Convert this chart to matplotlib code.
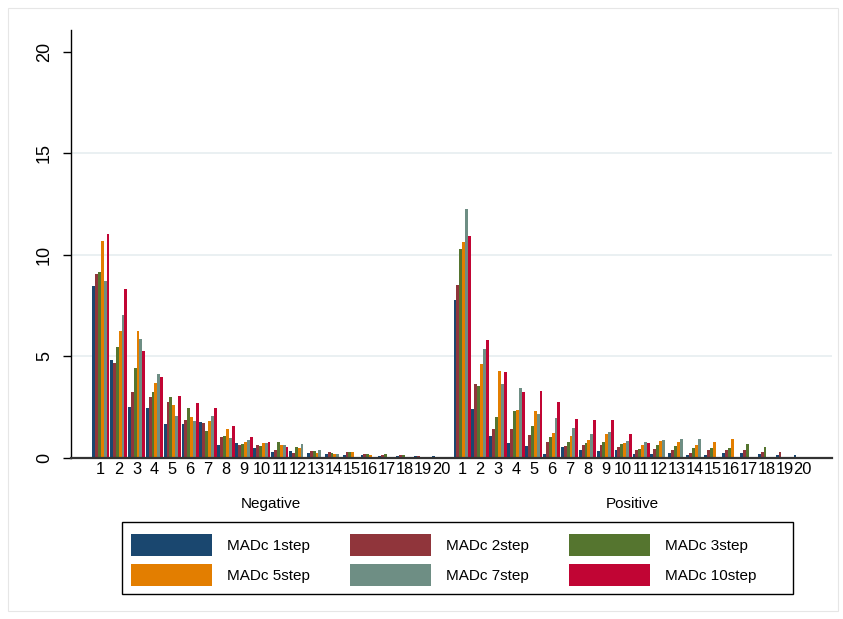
import numpy as np
import matplotlib
matplotlib.use('Agg')
import matplotlib.pyplot as plt
from matplotlib.patches import Patch, Rectangle

plt.rcParams['font.family'] = ['Liberation Sans', 'DejaVu Sans']

# data
categories = [str(i) for i in range(1, 21)]
groups = ['Negative', 'Positive']
series = ['MADc 1step', 'MADc 2step', 'MADc 3step', 'MADc 5step', 'MADc 7step', 'MADc 10step']
colors = ['#1a476f', '#90353b', '#55752f', '#e37e00', '#6e8e84', '#c10534']

neg_1step = [8.47, 4.83, 2.51, 2.46, 1.67, 1.67, 1.77, 0.64, 0.74, 0.49, 0.28, 0.36, 0.26, 0.21, 0.13, 0.13, 0.08, 0.08, 0.08, 0.08]
neg_2step = [9.06, 4.68, 3.25, 3.00, 2.76, 1.87, 1.72, 1.03, 0.64, 0.64, 0.41, 0.23, 0.36, 0.31, 0.30, 0.20, 0.13, 0.15, 0.08, 0]
neg_3step = [9.16, 5.47, 4.43, 3.25, 3.00, 2.46, 1.33, 1.08, 0.69, 0.59, 0.80, 0.56, 0.35, 0.26, 0.30, 0.18, 0.21, 0.16, 0, 0]
neg_5step = [10.70, 6.26, 6.26, 3.69, 2.61, 2.00, 1.82, 1.43, 0.79, 0.74, 0.66, 0.51, 0.26, 0.21, 0.31, 0.13, 0, 0, 0, 0]
neg_7step = [8.70, 7.04, 5.86, 4.14, 2.07, 1.82, 2.07, 0.99, 0.89, 0.74, 0.66, 0.70, 0.39, 0.21, 0, 0, 0, 0, 0, 0]
neg_10step = [11.03, 8.33, 5.27, 3.99, 3.05, 2.71, 2.46, 1.58, 1.03, 0.79, 0.56, 0, 0, 0, 0, 0, 0, 0, 0, 0]

pos_1step = [7.78, 2.41, 1.08, 0.74, 0.59, 0.20, 0.53, 0.39, 0.34, 0.39, 0.20, 0.21, 0.26, 0.16, 0.16, 0.23, 0.23, 0.18, 0.13, 0.13]
pos_2step = [8.54, 3.64, 1.43, 1.43, 1.13, 0.79, 0.59, 0.64, 0.64, 0.54, 0.39, 0.46, 0.39, 0.23, 0.39, 0.38, 0.39, 0.28, 0.30, 0]
pos_3step = [10.27, 3.55, 2.00, 2.33, 1.58, 1.03, 0.79, 0.72, 0.79, 0.69, 0.44, 0.64, 0.59, 0.47, 0.51, 0.51, 0.67, 0.54, 0, 0]
pos_5step = [10.63, 4.65, 4.29, 2.36, 2.32, 1.23, 1.07, 0.90, 1.20, 0.74, 0.62, 0.85, 0.77, 0.62, 0.77, 0.92, 0, 0, 0, 0]
pos_7step = [12.27, 5.37, 3.64, 3.45, 2.17, 1.97, 1.46, 1.20, 1.30, 0.84, 0.77, 0.88, 0.95, 0.95, 0, 0, 0, 0, 0, 0]
pos_10step = [10.95, 5.80, 4.24, 3.27, 3.30, 2.76, 1.92, 1.86, 1.89, 1.17, 0.74, 0, 0, 0, 0, 0, 0, 0, 0, 0]

neg_data = [neg_1step, neg_2step, neg_3step, neg_5step, neg_7step, neg_10step]
pos_data = [pos_1step, pos_2step, pos_3step, pos_5step, pos_7step, pos_10step]

# layout
bar_w = 1.0
step = 6.2
gap = 7.4
neg_x = np.arange(len(categories)) * step
pos_x = neg_x[-1] + gap + np.arange(len(categories)) * step
offsets = (np.arange(len(series)) - 2.5) * bar_w

fig = plt.figure(figsize=(8.43, 6.19), dpi=100)
fig.patches.append(Rectangle((8 / 843, 8 / 619), 830 / 843, 603 / 619, transform=fig.transFigure,
                             fill=False, edgecolor='#e6e6e6', linewidth=0.8))
ax = fig.add_axes([71 / 843, 1 - 458 / 619, 761 / 843, 428 / 619])

for k in range(len(series)):
    ax.bar(neg_x + offsets[k], neg_data[k], width=bar_w, color=colors[k], linewidth=0, zorder=2)
    ax.bar(pos_x + offsets[k], pos_data[k], width=bar_w, color=colors[k], linewidth=0, zorder=2)

for yv in [5, 10, 15]:
    ax.axhline(yv, color='#e8eff1', linewidth=1.3, zorder=0)

ax.set_xlim(neg_x[0] - 3 - 7.3, pos_x[-1] + 3 + 7.3)
ax.set_ylim(0, 21.08)

ax.set_yticks([0, 5, 10, 15, 20])
ax.set_yticklabels(['0', '5', '10', '15', '20'], rotation=90, va='center', fontsize=13)
ax.tick_params(axis='y', length=6, width=1, pad=7)

ax.set_xticks(np.concatenate([neg_x, pos_x]))
ax.set_xticklabels(categories + categories, fontsize=11.8)
ax.tick_params(axis='x', length=0, pad=3)

ax.spines['top'].set_visible(False)
ax.spines['right'].set_visible(False)
ax.spines['left'].set_linewidth(1.0)
ax.spines['bottom'].set_linewidth(1.6)
ax.spines['bottom'].set_color('#333333')

for name, xs in zip(groups, [neg_x, pos_x]):
    ax.annotate(name, xy=(xs.mean(), 0), xycoords=('data', 'axes fraction'),
                xytext=(0, -33), textcoords='offset points', ha='center', va='center', fontsize=11)

# legend: entries without frame, frame drawn as its own box
handles = [Patch(facecolor=c, edgecolor='none') for c in colors]
order = [0, 3, 1, 4, 2, 5]
leg = fig.legend([handles[i] for i in order], [series[i] for i in order], ncol=3,
                 loc='center', bbox_to_anchor=(443.5 / 843, 1 - 560 / 619),
                 fontsize=11, handlelength=5.3, handleheight=1.84, handletextpad=1.0,
                 columnspacing=2.6, labelspacing=0.55, borderpad=0, frameon=False)
fig.patches.append(Rectangle((122 / 843, 1 - 594 / 619), 671 / 843, 72 / 619, transform=fig.transFigure,
                             fill=False, edgecolor='black', linewidth=1.0))

fig.savefig('out.png', dpi=100)
